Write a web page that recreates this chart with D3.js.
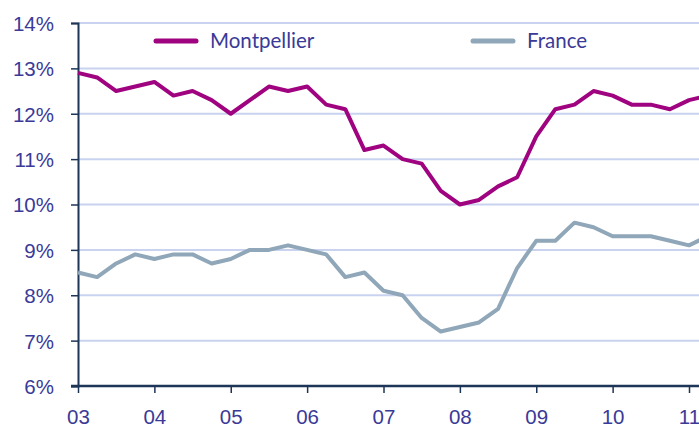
<!DOCTYPE html>
<html>
<head>
<meta charset="utf-8">
<script src="https://cdn.jsdelivr.net/npm/d3@7"></script>
<style>
  body { margin: 0; background: #fff; }
  svg { display: block; font-family: Lato, "Open Sans", sans-serif; }
</style>
</head>
<body>
<div id="chart"></div>
<script>
// valeurs trimestrielles, 1er trim. 2003 -> 2e trim. 2011
var startYear = 2003;
var years = [2003, 2004, 2005, 2006, 2007, 2008, 2009, 2010, 2011];
var yTicks = [6, 7, 8, 9, 10, 11, 12, 13, 14];
var montpellier = [12.9, 12.8, 12.5, 12.6, 12.7, 12.4, 12.5, 12.3, 12.0, 12.3, 12.6, 12.5,
  12.6, 12.2, 12.1, 11.2, 11.3, 11.0, 10.9, 10.3, 10.0, 10.1, 10.4, 10.6,
  11.5, 12.1, 12.2, 12.5, 12.4, 12.2, 12.2, 12.1, 12.3, 12.4];
var france = [8.5, 8.4, 8.7, 8.9, 8.8, 8.9, 8.9, 8.7, 8.8, 9.0, 9.0, 9.1,
  9.0, 8.9, 8.4, 8.5, 8.1, 8.0, 7.5, 7.2, 7.3, 7.4, 7.7, 8.6,
  9.2, 9.2, 9.6, 9.5, 9.3, 9.3, 9.3, 9.2, 9.1, 9.3];
var series = [
  { name: "Montpellier", values: montpellier, color: "#a0037f", lx: 156 },
  { name: "France", values: france, color: "#8fa7b8", lx: 473 }
];

var W = 699, H = 428;
var x0 = 78, x1 = 689, yTop = 23, yBot = 386;
var textColor = "#3a3a98", axisColor = "#1d3557", gridColor = "#c9d3ef";
var fs = "20.5px";

var svg = d3.select("#chart").append("svg")
    .attr("width", W)
    .attr("height", H);

var x = d3.scaleLinear().domain([2003, 2011]).range([x0, x1]);
var y = d3.scaleLinear().domain([6, 14]).range([yBot, yTop]);

// grille horizontale
svg.append("g")
  .selectAll("line")
  .data(yTicks.slice(1))
  .enter().append("line")
    .attr("x1", x0).attr("x2", W + 20)
    .attr("y1", function(d) { return y(d); })
    .attr("y2", function(d) { return y(d); })
    .attr("stroke", gridColor)
    .attr("stroke-width", 2);

// axe Y
var yAxis = svg.append("g")
    .attr("transform", "translate(" + x0 + ",0)")
    .call(d3.axisLeft(y).tickValues(yTicks).tickSize(7).tickPadding(17)
      .tickFormat(function(d) { return d + "%"; }));
yAxis.select(".domain").attr("stroke", axisColor).attr("stroke-width", 2);
yAxis.selectAll(".tick line").attr("stroke", axisColor).attr("stroke-width", 1.5);
yAxis.selectAll("text").attr("fill", textColor).style("font-size", fs)
    .attr("dy", "0.36em");

// axe X
var xAxis = svg.append("g")
    .attr("transform", "translate(0," + yBot + ")")
    .call(d3.axisBottom(x).tickValues(years).tickSize(7).tickPadding(16)
      .tickFormat(function(d) { return d3.format("02d")(d % 100); }));
xAxis.select(".domain").attr("d", "M" + (x0 - 7) + ",0H" + (W + 20))
    .attr("stroke", axisColor).attr("stroke-width", 2.5);
xAxis.selectAll(".tick line").attr("stroke", axisColor).attr("stroke-width", 1.5);
xAxis.selectAll("text").attr("fill", textColor).style("font-size", fs);

// courbes
var line = d3.line()
    .x(function(d, i) { return x(startYear + i / 4); })
    .y(function(d) { return y(d); });

svg.selectAll(".serie")
  .data(series)
  .enter().append("path")
    .attr("class", "serie")
    .attr("d", function(s) { return line(s.values); })
    .attr("fill", "none")
    .attr("stroke", function(s) { return s.color; })
    .attr("stroke-width", 4)
    .attr("stroke-linejoin", "round");

// legende
var leg = svg.selectAll(".leg")
  .data(series)
  .enter().append("g")
    .attr("class", "leg")
    .attr("transform", function(s) { return "translate(" + s.lx + ",41)"; });
leg.append("line")
    .attr("x1", 0).attr("x2", 40)
    .attr("stroke", function(s) { return s.color; })
    .attr("stroke-width", 5)
    .attr("stroke-linecap", "round");
leg.append("text")
    .attr("x", 54).attr("dy", "0.36em")
    .attr("fill", textColor)
    .style("font-size", fs)
    .text(function(s) { return s.name; });
</script>
</body>
</html>
